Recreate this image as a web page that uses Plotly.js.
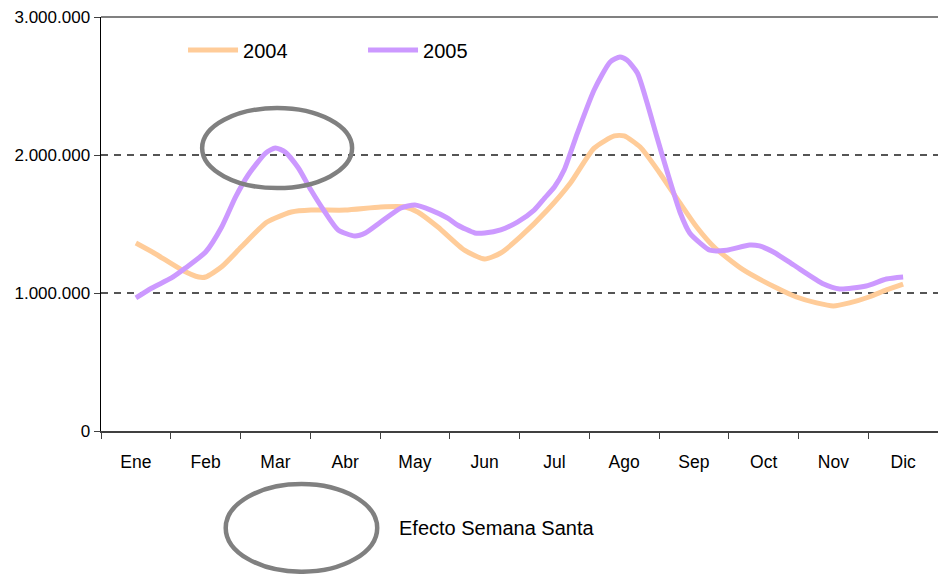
<!DOCTYPE html>
<html>
<head>
<meta charset="utf-8">
<script src="https://cdn.plot.ly/plotly-3.0.1.min.js"></script>
<style>html,body{margin:0;padding:0;background:#fff;}#chart{width:938px;height:574px;}</style>
</head>
<body>
<div id="chart"></div>
<script>
// Month labels (category axis)
const meses = ["Ene","Feb","Mar","Abr","May","Jun","Jul","Ago","Sep","Oct","Nov","Dic"];

// 2004 series: position in months (0 = Ene) and value
const pos2004 = [0.00,0.26,0.66,0.90,1.00,1.23,1.51,1.86,2.00,2.23,2.51,3.00,3.51,3.86,4.04,4.33,4.71,5.00,5.23,5.51,5.90,6.23,6.57,6.86,7.00,7.23,7.51,7.80,8.04,8.29,8.71,9.19,9.47,9.76,10.00,10.23,10.51,10.76,11.00];
const val2004 = [1362000,1290000,1167000,1116000,1116000,1190000,1333000,1507000,1543000,1587000,1601000,1601000,1623000,1623000,1587000,1478000,1310000,1246000,1290000,1406000,1601000,1797000,2050000,2138000,2138000,2058000,1870000,1652000,1478000,1333000,1167000,1036000,971000,928000,906000,928000,971000,1022000,1065000];

// 2005 series
const pos2005 = [0.00,0.23,0.51,0.71,1.00,1.23,1.43,1.61,1.86,2.00,2.14,2.33,2.51,2.71,2.90,3.14,3.29,3.51,3.80,4.00,4.23,4.47,4.61,4.86,5.00,5.23,5.47,5.71,5.86,6.00,6.14,6.33,6.57,6.80,6.94,7.04,7.19,7.33,7.47,7.61,7.80,7.94,8.09,8.23,8.47,8.80,8.94,9.14,9.43,9.86,10.09,10.47,10.76,11.00];
const val2005 = [964000,1036000,1109000,1181000,1297000,1478000,1696000,1855000,2014000,2051000,2022000,1906000,1746000,1587000,1457000,1413000,1435000,1514000,1616000,1638000,1601000,1543000,1493000,1435000,1435000,1457000,1514000,1601000,1688000,1768000,1891000,2159000,2471000,2674000,2710000,2688000,2594000,2377000,2130000,1891000,1587000,1435000,1362000,1310000,1310000,1348000,1341000,1297000,1203000,1065000,1029000,1051000,1101000,1116000];

// Y tick labels
const yTickVals = [0,1000000,2000000,3000000];
const yTickText = ["0","1.000.000","2.000.000","3.000.000"];

const monthIdx = meses.map((m,i)=>i);
const boundaries = [];
for (let i = 0; i <= meses.length; i++) boundaries.push(i - 0.5);

const FONT = "Liberation Sans, Arial, sans-serif";

const traces = [
  {x: pos2004, y: val2004, name: "2004", type: "scatter", mode: "lines",
   line: {color: "#FFCC99", width: 5, shape: "spline", smoothing: 0.6}},
  {x: pos2005, y: val2005, name: "2005", type: "scatter", mode: "lines",
   line: {color: "#CC99FF", width: 5, shape: "spline", smoothing: 0.6}}
];

const layout = {
  width: 938, height: 574,
  margin: {l: 101, r: 0, t: 17, b: 143},
  paper_bgcolor: "#fff", plot_bgcolor: "#fff",
  font: {family: FONT, size: 17, color: "#000"},
  showlegend: true,
  legend: {orientation: "h", x: 0.098, y: 0.92, xanchor: "left", yanchor: "middle",
           font: {family: FONT, size: 20, color: "#000"}, bgcolor: "rgba(0,0,0,0)",
           entrywidth: 115, entrywidthmode: "pixels", itemwidth: 50},
  xaxis: {
    range: [-0.5, 11.5], tickmode: "array", tickvals: monthIdx, ticktext: meses,
    ticks: "", showgrid: false, zeroline: false, fixedrange: true,
    showline: true, linecolor: "#404040", linewidth: 2,
    ticklabelstandoff: 14,
    tickfont: {family: FONT, size: 17.5, color: "#000"},
    minor: {tickmode: "array", tickvals: boundaries, ticks: "outside", ticklen: 6, tickwidth: 1, tickcolor: "#404040", showgrid: false}
  },
  yaxis: {
    range: [0, 3000000], tickmode: "array", tickvals: yTickVals, ticktext: yTickText,
    ticks: "outside", ticklen: 6, tickwidth: 1, tickcolor: "#404040",
    showline: true, linecolor: "#000", linewidth: 1.5,
    showgrid: true, gridcolor: "#555", gridwidth: 1.2, griddash: "7px,6px",
    zeroline: false, fixedrange: true,
    tickfont: {family: FONT, size: 17, color: "#000"}
  },
  shapes: [
    {type: "line", xref: "paper", yref: "paper", x0: 0, x1: 1, y0: 1, y1: 1,
     line: {color: "#808080", width: 2}},
    {type: "circle", xref: "x", yref: "y", x0: 0.95, x1: 3.10, y0: 1760000, y1: 2340000,
     line: {color: "#808080", width: 4.5}},
    {type: "circle", xref: "paper", yref: "paper", x0: 0.149, x1: 0.330, y0: -0.340, y1: -0.128,
     line: {color: "#808080", width: 4.5}}
  ],
  annotations: [
    {xref: "paper", yref: "paper", x: 0.354, y: -0.234, xanchor: "left", yanchor: "middle",
     text: "Efecto Semana Santa", showarrow: false, font: {family: FONT, size: 20, color: "#000"}}
  ]
};

Plotly.newPlot("chart", traces, layout, {displayModeBar: false, staticPlot: true});
</script>
</body>
</html>
